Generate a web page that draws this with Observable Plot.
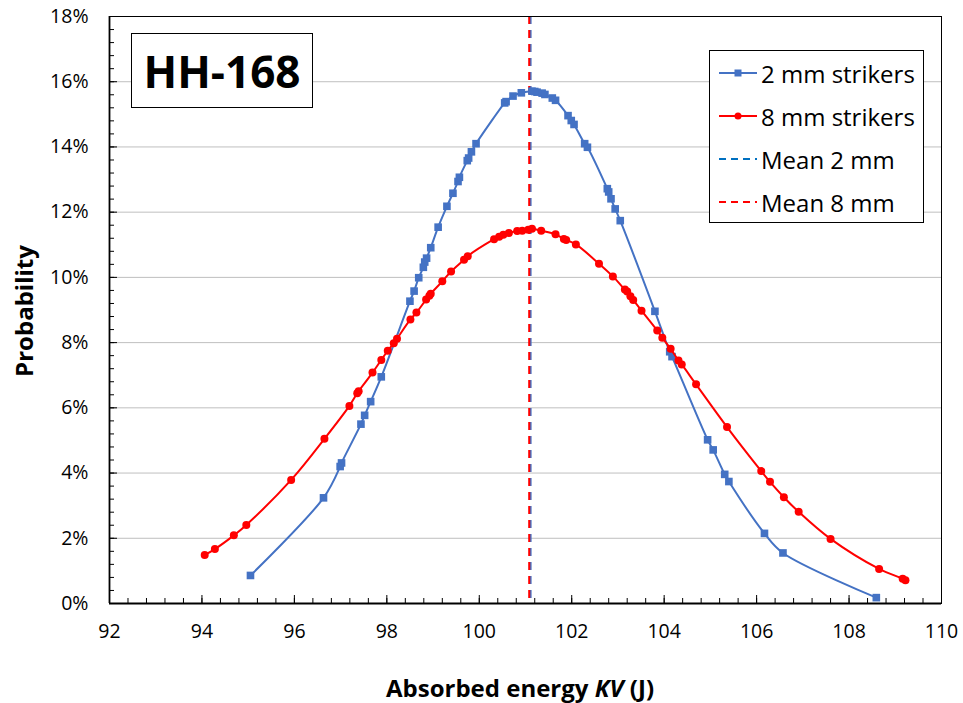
<!DOCTYPE html>
<html><head><meta charset="utf-8">
<script src="https://cdn.jsdelivr.net/npm/d3@7"></script>
<script src="https://cdn.jsdelivr.net/npm/@observablehq/plot@0.6"></script>
<style>
body{margin:0;background:#fff;}
#wrap{position:relative;width:963px;height:703px;font-family:"Open Sans",sans-serif;}
#title{position:absolute;left:131px;top:33px;width:180px;height:73px;border:1.5px solid #000;background:#fff;display:flex;align-items:center;justify-content:center;font-weight:700;font-size:44px;color:#000;}
#legend{position:absolute;left:709px;top:50px;width:213px;height:171px;border:1.3px solid #000;background:#fff;}
.row{position:absolute;left:8px;height:30px;display:flex;align-items:center;font-size:24px;color:#000;white-space:nowrap;}
.row svg{margin-right:3px;}
</style>
</head><body>
<div id="wrap"></div>
<script>
const chartTitle = "HH-168";
const xTicks = [92, 94, 96, 98, 100, 102, 104, 106, 108, 110];
const yTicks = [0, 2, 4, 6, 8, 10, 12, 14, 16, 18];
const seriesNames = ["2 mm strikers", "8 mm strikers", "Mean 2 mm", "Mean 8 mm"];
const seriesColors = ["#4472C4", "#FF0000", "#0070C0", "#FF0000"];

// 2 mm strikers: absorbed energy (J), probability (%)
const kv2 = [95.05,96.63,96.99,97.02,97.44,97.52,97.65,97.88,98.50,98.59,98.69,98.79,98.82,98.86,98.95,99.11,99.30,99.43,99.54,99.57,99.74,99.77,99.83,99.93,100.55,100.58,100.73,100.91,101.14,101.20,101.25,101.36,101.42,101.58,101.65,101.92,101.99,102.05,102.28,102.34,102.77,102.80,102.85,102.94,103.05,103.80,104.12,104.17,104.94,105.06,105.31,105.40,106.17,106.57,108.59];
const p2  = [0.86,3.24,4.20,4.31,5.50,5.77,6.19,6.95,9.27,9.58,9.99,10.31,10.47,10.59,10.91,11.54,12.18,12.58,12.94,13.07,13.58,13.66,13.85,14.10,15.35,15.39,15.56,15.66,15.71,15.70,15.68,15.65,15.61,15.50,15.43,14.96,14.81,14.69,14.10,13.99,12.72,12.62,12.41,12.10,11.74,8.96,7.72,7.57,5.02,4.71,3.96,3.74,2.15,1.55,0.18];

// 8 mm strikers
const kv8 = [94.06,94.28,94.69,94.96,95.93,96.65,97.19,97.36,97.39,97.69,97.88,98.02,98.15,98.22,98.51,98.64,98.85,98.92,98.95,99.20,99.39,99.67,99.75,100.32,100.43,100.52,100.64,100.82,100.93,101.06,101.14,101.34,101.65,101.83,101.88,102.09,102.59,102.89,103.15,103.20,103.27,103.33,103.51,103.85,103.96,104.14,104.31,104.38,104.69,105.36,106.10,106.29,106.59,106.91,107.60,108.65,109.16,109.22];
const p8  = [1.49,1.67,2.09,2.41,3.79,5.05,6.06,6.45,6.51,7.08,7.47,7.75,7.98,8.12,8.71,8.92,9.32,9.44,9.50,9.88,10.18,10.54,10.65,11.17,11.25,11.31,11.36,11.42,11.43,11.46,11.49,11.43,11.32,11.18,11.15,11.01,10.42,10.03,9.63,9.57,9.42,9.31,8.98,8.37,8.15,7.81,7.45,7.33,6.72,5.41,4.06,3.73,3.26,2.81,1.98,1.06,0.76,0.71];

const mean2 = 101.11;
const mean8 = 101.08;

const d2 = kv2.map((x, i) => ({x, y: p2[i]}));
const d8 = kv8.map((x, i) => ({x, y: p8[i]}));
const xMinor = d3.range(92, 110.001, 0.4).map(v => +v.toFixed(1));
const yMinor = d3.range(0, 18.001, 0.4).map(v => +v.toFixed(1));

const chart = Plot.plot({
  width: 963, height: 703,
  marginLeft: 109, marginRight: 22, marginTop: 16, marginBottom: 100,
  style: {fontFamily: "'Open Sans', sans-serif", fontSize: "19.5px", color: "#000", background: "#fff"},
  x: {domain: [92, 110]},
  y: {domain: [0, 18]},
  marks: [
    Plot.gridY(yTicks.filter(v => v > 0 && v < 18), {stroke: "#bfbfbf", strokeOpacity: 1, strokeWidth: 1}),
    Plot.ruleX([mean2], {stroke: "#4472C4", strokeWidth: 2, strokeDasharray: "8,6"}),
    Plot.ruleX([mean8], {stroke: "#FF0000", strokeWidth: 2, strokeDasharray: "8,6"}),
    Plot.line(d2, {x: "x", y: "y", stroke: seriesColors[0], strokeWidth: 2, curve: "catmull-rom"}),
    Plot.dot(d2, {x: "x", y: "y", symbol: "square", r: 4.3, fill: seriesColors[0]}),
    Plot.line(d8, {x: "x", y: "y", stroke: seriesColors[1], strokeWidth: 2, curve: "catmull-rom"}),
    Plot.dot(d8, {x: "x", y: "y", r: 4, fill: seriesColors[1]}),
    Plot.frame({stroke: "#000", strokeWidth: 1}),
    Plot.ruleY([0], {stroke: "#000", strokeWidth: 1.8}),
    Plot.ruleX([92], {stroke: "#000", strokeWidth: 1.8}),
    Plot.axisX({ticks: xMinor, tickSize: -5, tickFormat: () => "", label: null, stroke: "#000"}),
    Plot.axisX({ticks: xTicks, tickSize: -8, tickFormat: () => "", label: null, stroke: "#000"}),
    Plot.axisX({ticks: xTicks, tickSize: 0, tickPadding: 21, tickFormat: d => String(d), label: null, fill: "#000"}),
    Plot.axisY({ticks: yMinor, tickSize: -5, tickFormat: () => "", label: null, stroke: "#000"}),
    Plot.axisY({ticks: yTicks, tickSize: -8, tickFormat: () => "", label: null, stroke: "#000"}),
    Plot.axisY({ticks: yTicks, tickSize: 0, tickPadding: 21, tickFormat: d => d + "%", label: null, fill: "#000"})
  ]
});

const wrap = document.getElementById("wrap");
wrap.appendChild(chart);
const svg = d3.select(chart);

const xl = svg.append("text")
  .attr("x", 520).attr("y", 697)
  .attr("text-anchor", "middle")
  .attr("font-weight", 700).attr("font-size", 24).attr("fill", "#000")
  .style("font-family", "'Open Sans', sans-serif");
xl.append("tspan").text("Absorbed energy ");
xl.append("tspan").attr("font-style", "italic").text("KV");
xl.append("tspan").text(" (J)");

svg.append("text")
  .attr("transform", "translate(33,311) rotate(-90)")
  .attr("text-anchor", "middle")
  .attr("font-weight", 700).attr("font-size", 24).attr("fill", "#000")
  .style("font-family", "'Open Sans', sans-serif")
  .text("Probability");

const title = document.createElement("div");
title.id = "title";
title.textContent = chartTitle;
wrap.appendChild(title);

const legend = document.createElement("div");
legend.id = "legend";
seriesNames.forEach((name, i) => {
  const row = document.createElement("div");
  row.className = "row";
  row.style.top = (7 + i * 43) + "px";
  const s = d3.create("svg").attr("width", 40).attr("height", 20);
  s.append("line").attr("x1", 1).attr("x2", 39).attr("y1", 10).attr("y2", 10)
    .attr("stroke", seriesColors[i]).attr("stroke-width", 2)
    .attr("stroke-dasharray", i >= 2 ? "7,5" : null);
  if (i === 0) s.append("rect").attr("x", 16.5).attr("y", 6.5).attr("width", 7).attr("height", 7).attr("fill", seriesColors[i]);
  if (i === 1) s.append("circle").attr("cx", 20).attr("cy", 10).attr("r", 3.5).attr("fill", seriesColors[i]);
  row.appendChild(s.node());
  const t = document.createElement("span");
  t.textContent = name;
  row.appendChild(t);
  legend.appendChild(row);
});
wrap.appendChild(legend);
</script>
</body></html>
